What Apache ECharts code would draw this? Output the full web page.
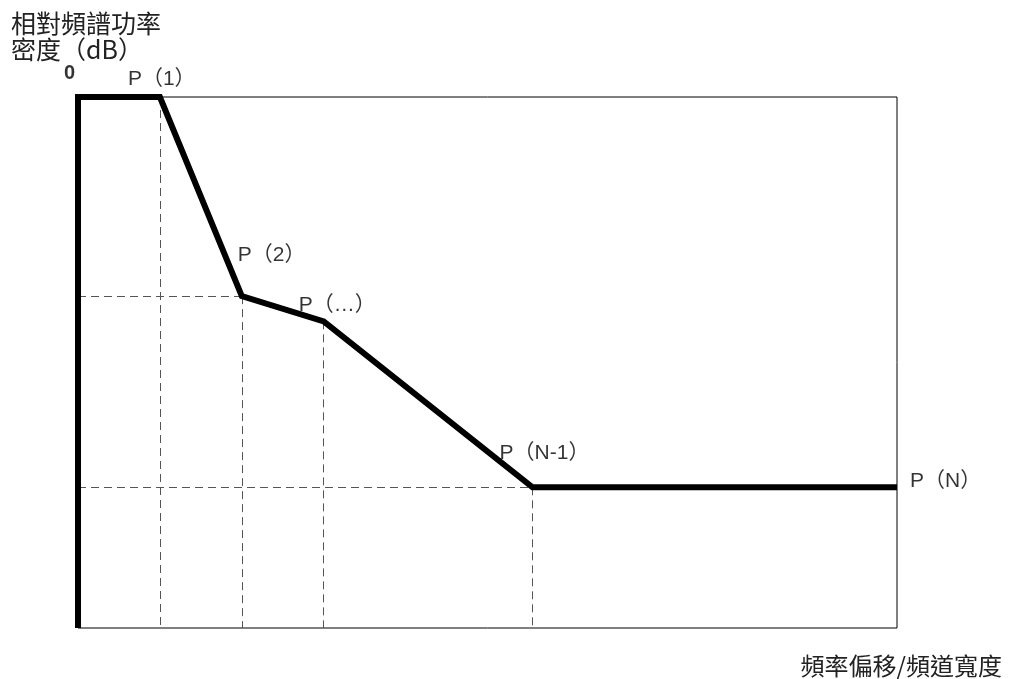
<!DOCTYPE html>
<html>
<head>
<meta charset="utf-8">
<script src="https://cdn.jsdelivr.net/npm/echarts@6/dist/echarts.min.js"></script>
<style>html,body{margin:0;padding:0;background:#fff}#c{width:1013px;height:679px}</style>
</head>
<body>
<div id="c"></div>
<script>
// Mask points (x = normalized frequency offset, y = relative PSD in dB)
var maskX = [0, 0, 1, 2, 3, 5.55, 10];
var maskY = [-40, 0, 0, -15, -16.9, -29.4, -29.4];
// Labelled points
var labelNames = ['P（1）', 'P（2）', 'P（…）', 'P（N-1）', 'P（N）'];
var labelX = [1, 2, 3, 5.55, 10];
var labelY = [0, -15, -16.9, -29.4, -29.4];
var zeroLabel = '0';
// Dashed guide lines
var vGuideX = [1, 2, 3, 5.55];
var vGuideY = [0, -15, -16.9, -29.4];
var hGuideX = [2, 5.55];
var hGuideY = [-15, -29.4];
var yMin = -40, yMax = 0, xMin = 0, xMax = 10;
var yTitle = '相對頻譜功率\n密度（dB）';
var xTitle = '頻率偏移/頻道寬度';

var labelOffsets = [[-32, -18], [-4, -41], [-25, -16], [-33, -34], [13, -6]];

var mask = maskX.map(function (x, i) { return [x, maskY[i]]; });
var guides = [];
vGuideX.forEach(function (x, i) { guides.push([{ coord: [x, vGuideY[i]] }, { coord: [x, yMin] }]); });
hGuideX.forEach(function (x, i) { guides.push([{ coord: [xMin, hGuideY[i]] }, { coord: [x, hGuideY[i]] }]); });
var labels = labelNames.map(function (n, i) {
  return { name: n, value: [labelX[i], labelY[i]], label: { offset: labelOffsets[i] } };
});

var labelFont = { color: '#000', fontSize: 21, fontFamily: '"Liberation Sans", "Noto Sans CJK TC"' };

var chart = echarts.init(document.getElementById('c'));
chart.setOption({
  animation: false,
  title: [
    { text: yTitle, left: 6, top: 5, textStyle: { fontFamily: 'Noto Sans CJK TC', fontWeight: 'normal', fontSize: 25, lineHeight: 26, color: '#222' } },
    { text: xTitle, right: 6, top: 649, textStyle: { fontFamily: 'Noto Sans CJK TC', fontWeight: 'normal', fontSize: 24, color: '#222' } }
  ],
  grid: { left: 78, right: 116, top: 97, bottom: 51, show: true, borderColor: '#000', borderWidth: 1, backgroundColor: 'transparent' },
  xAxis: { type: 'value', min: xMin, max: xMax, axisLine: { show: false }, axisTick: { show: false }, axisLabel: { show: false }, splitLine: { show: false } },
  yAxis: { type: 'value', min: yMin, max: yMax, axisLine: { show: false }, axisTick: { show: false }, axisLabel: { show: false }, splitLine: { show: false } },
  series: [
    {
      type: 'line', data: mask, symbol: 'none', z: 3,
      lineStyle: { color: '#000', width: 6, join: 'miter' },
      markLine: {
        silent: true, symbol: 'none', label: { show: false },
        lineStyle: { color: '#555', width: 1, type: [8, 5] },
        data: guides, z: 1
      }
    },
    {
      type: 'scatter', data: labels, symbolSize: 20, z: 4,
      itemStyle: { color: 'rgba(0,0,0,0)' },
      label: {
        show: true, position: 'inside', align: 'left', verticalAlign: 'middle',
        formatter: '{a|{b}}', rich: { a: labelFont }
      }
    },
    {
      type: 'scatter', data: [{ name: zeroLabel, value: [xMin, yMax] }], symbolSize: 20, z: 4,
      itemStyle: { color: 'rgba(0,0,0,0)' },
      label: {
        show: true, position: 'inside', align: 'left', verticalAlign: 'middle', offset: [-14, -24],
        formatter: '{a|{b}}', rich: { a: { color: '#000', fontSize: 20, fontWeight: 'bold', fontFamily: 'Liberation Sans' } }
      }
    }
  ]
});
</script>
</body>
</html>
